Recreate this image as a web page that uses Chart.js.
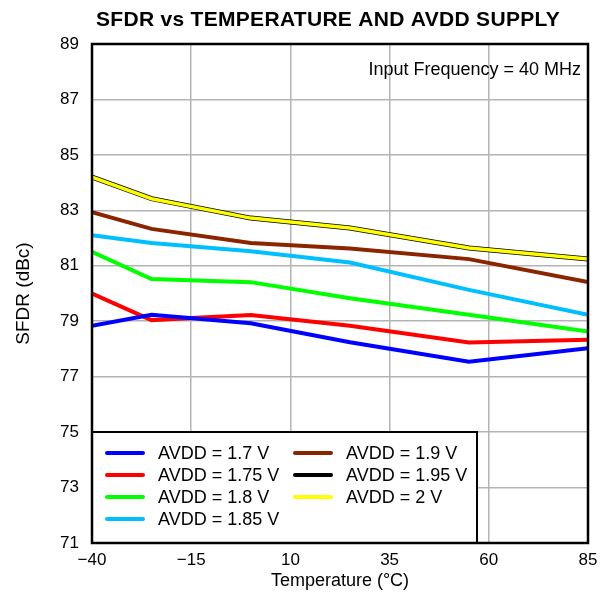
<!DOCTYPE html>
<html lang="en">
<head>
    <meta charset="UTF-8">
    <title>SFDR vs Temperature and AVDD Supply</title>
    <script src="https://cdn.jsdelivr.net/npm/chart.js"></script>
    <style>
        body { margin: 0; background: #fff; }
        #wrap { width: 600px; height: 595px; }
    </style>
</head>
<body>
    <div id="wrap"><canvas id="sfdrChart"></canvas></div>

    <script>
        // temperatures (°C) where the curves were measured
        const temps = [-40, -25, 0, 25, 55, 85];

        // SFDR (dBc) per AVDD supply
        const avdd170 = [78.84, 79.23, 78.93, 78.24, 77.54, 78.03];
        const avdd175 = [80.0, 79.04, 79.22, 78.84, 78.23, 78.33];
        const avdd180 = [81.5, 80.52, 80.41, 79.83, 79.23, 78.63];
        const avdd185 = [82.1, 81.82, 81.52, 81.12, 80.13, 79.23];
        const avdd190 = [82.93, 82.33, 81.82, 81.62, 81.24, 80.41];
        const avdd195 = [84.2, 83.42, 82.72, 82.36, 81.64, 81.24];
        const avdd200 = [84.2, 83.42, 82.72, 82.36, 81.64, 81.24];

        const seriesLabels = ['AVDD = 1.7 V', 'AVDD = 1.75 V', 'AVDD = 1.8 V', 'AVDD = 1.85 V',
                              'AVDD = 1.9 V', 'AVDD = 1.95 V', 'AVDD = 2 V'];
        const seriesColors = ['#0000ff', '#ff0000', '#00ff00', '#00bfff', '#8b2500', '#000000', '#ffff00'];
        const seriesData = [avdd170, avdd175, avdd180, avdd185, avdd190, avdd195, avdd200];

        const xTicks = [-40, -15, 10, 35, 60, 85];
        const yMin = 71, yMax = 89, yStep = 2;

        const FONT = "'Liberation Sans', Arial, sans-serif";

        // black (1.95 V) sits under yellow (2 V); they overlap exactly
        const datasets = seriesData.map((vals, i) => ({
            label: seriesLabels[i],
            data: temps.map((t, j) => ({ x: t, y: vals[j] })),
            borderColor: seriesColors[i],
            borderWidth: i === 5 ? 5 : (i === 6 ? 3.5 : 4),
            pointRadius: 0,
            tension: 0,
            fill: false,
            order: i === 6 ? -1 : 0
        }));

        // title, note, frame and the boxed two-column legend
        const decorations = {
            id: 'decorations',
            afterDraw(chart) {
                const ctx = chart.ctx;
                const a = chart.chartArea;
                ctx.save();

                ctx.fillStyle = '#000';
                ctx.font = 'bold 21px ' + FONT;
                ctx.letterSpacing = '0.3px';
                ctx.textAlign = 'center';
                ctx.textBaseline = 'middle';
                ctx.fillText('SFDR vs TEMPERATURE AND AVDD SUPPLY', 328, 20);
                ctx.letterSpacing = '0px';

                ctx.font = '18px ' + FONT;
                ctx.textAlign = 'right';
                ctx.fillText('Input Frequency = 40 MHz', a.right - 7, a.top + 26);

                // legend box
                const bx = a.left, by = 432, bw = 477 - a.left, bh = a.bottom - by;
                ctx.fillStyle = '#fff';
                ctx.fillRect(bx, by, bw, bh);
                ctx.strokeStyle = '#000';
                ctx.lineWidth = 2;
                ctx.strokeRect(bx, by, bw, bh);

                ctx.font = '18px ' + FONT;
                ctx.textAlign = 'left';
                ctx.lineCap = 'round';
                chart.data.datasets.forEach((ds, i) => {
                    const col = i < 4 ? 0 : 1;
                    const row = i < 4 ? i : i - 4;
                    const lx = col === 0 ? 107 : 295;
                    const y = 453 + row * 22;
                    ctx.strokeStyle = ds.borderColor;
                    ctx.lineWidth = 4;
                    ctx.beginPath();
                    ctx.moveTo(lx, y);
                    ctx.lineTo(lx + 36, y);
                    ctx.stroke();
                    ctx.fillStyle = '#000';
                    ctx.fillText(ds.label, lx + 51, y + 1);
                });

                // plot frame
                ctx.lineCap = 'butt';
                ctx.strokeStyle = '#000';
                ctx.lineWidth = 2.5;
                ctx.strokeRect(a.left, a.top, a.right - a.left, a.bottom - a.top);
                ctx.restore();
            }
        };

        new Chart(document.getElementById('sfdrChart'), {
            type: 'line',
            data: { datasets: datasets },
            options: {
                responsive: true,
                maintainAspectRatio: false,
                animation: false,
                layout: { padding: { top: 44, right: 12, left: 0, bottom: 0 } },
                plugins: {
                    legend: { display: false },
                    tooltip: { enabled: false }
                },
                scales: {
                    x: {
                        type: 'linear',
                        min: -40,
                        max: 85,
                        afterBuildTicks: s => { s.ticks = xTicks.map(v => ({ value: v })); },
                        afterFit: s => {
                            s.height = 52;
                            s.paddingLeft = 0;
                            s.paddingRight = 0;
                        },
                        grid: { color: '#b4b4b4', lineWidth: 1.5, drawTicks: false },
                        border: { display: false },
                        ticks: {
                            color: '#000',
                            padding: 7,
                            maxRotation: 0,
                            font: { family: FONT, size: 17 },
                            callback: v => String(v).replace('-', '\u2212')
                        },
                        title: {
                            display: true,
                            text: 'Temperature (°C)',
                            color: '#000',
                            font: { family: FONT, size: 18 },
                            padding: { top: 0, bottom: 3 }
                        }
                    },
                    y: {
                        min: yMin,
                        max: yMax,
                        afterFit: s => { s.width = 92; },
                        grid: { color: '#b4b4b4', lineWidth: 1.5, drawTicks: false },
                        border: { display: false },
                        ticks: {
                            stepSize: yStep,
                            color: '#000',
                            padding: 13,
                            font: { family: FONT, size: 17 }
                        },
                        title: {
                            display: true,
                            text: 'SFDR (dBc)',
                            color: '#000',
                            font: { family: FONT, size: 19 },
                            padding: { top: 12, bottom: 0 }
                        }
                    }
                }
            },
            plugins: [decorations]
        });
    </script>
</body>
</html>
